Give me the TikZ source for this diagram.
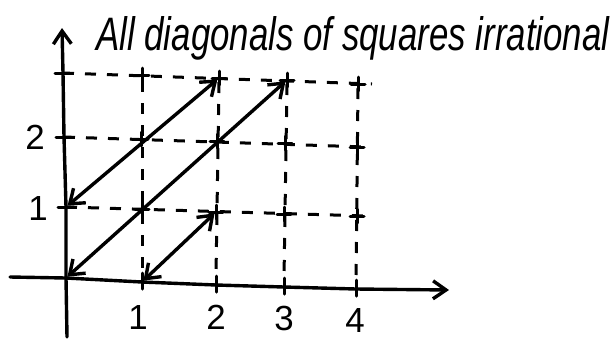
\documentclass[tikz,border=0pt]{standalone}
\usepackage{fontspec}
\setmainfont{Liberation Sans}
\usetikzlibrary{arrows.meta}
\begin{document}
\begin{tikzpicture}[x=1bp,y=-1bp,
  axisline/.style={line width=3.4bp, line cap=round, line join=round, -{Straight Barb[length=13bp,width=18bp,line width=3.4bp]}},
  gridline/.style={line width=3bp, dash pattern=on 11bp off 11bp},
  crossmark/.style={line width=3bp, line cap=round},
  diag/.style={line width=3.4bp, line cap=round, {Straight Barb[length=13bp,width=19bp,line width=3.4bp]}-{Straight Barb[length=13bp,width=19bp,line width=3.4bp]}, shorten <=2bp, shorten >=2bp},
  lbl/.style={font=\fontsize{35}{35}\selectfont, inner sep=0pt}]
\useasboundingbox (0,0) rectangle (614,339);
% grid points
\coordinate (p00) at (66,278);
\coordinate (p10) at (142,282);
\coordinate (p20) at (216,285);
\coordinate (p30) at (284,287);
\coordinate (p40) at (356,289);
\coordinate (p01) at (66,207);
\coordinate (p11) at (142,209);
\coordinate (p21) at (216,212);
\coordinate (p31) at (284,214);
\coordinate (p41) at (357,216);
\coordinate (p02) at (64,137);
\coordinate (p12) at (141,139);
\coordinate (p22) at (217,141);
\coordinate (p32) at (285,143);
\coordinate (p42) at (357,147);
\coordinate (p03) at (63,73);
\coordinate (p13) at (142,75);
\coordinate (p23) at (219,78);
\coordinate (p33) at (287,80);
\coordinate (p43) at (358,84);
% axes
\coordinate (xs) at (10,277);
\coordinate (xe) at (449,290);
\coordinate (ys) at (67,337);
\coordinate (ye) at (62,28);
\draw[axisline] (xs) -- (p00) -- (p10) -- (p20) -- (p30) -- (p40) -- (xe);
\draw[axisline] (ys) -- (p00) -- (p01) -- (p02) -- (p03) -- (ye);
% dashed grid
\draw[gridline] (p01) -- ([xshift=10bp]p41);
\draw[gridline] (p02) -- ([xshift=9bp]p42);
\draw[gridline] (p03) -- ([xshift=14bp]p43);
\draw[gridline] ([yshift=-6bp]p13) -- ([yshift=10bp]p10);
\draw[gridline] ([yshift=-4bp]p23) -- ([yshift=10bp]p20);
\draw[gridline] ([yshift=-4bp]p33) -- ([yshift=9bp]p30);
\draw[gridline] ([yshift=-4bp]p43) -- ([yshift=10bp]p40);
% cross marks
\foreach \p in {11,21,31,41,12,22,32,42,13,23,33,43}{
  \draw[crossmark] ([xshift=-7bp]p\p) -- ([xshift=7bp]p\p);
  \draw[crossmark] ([yshift=-7bp]p\p) -- ([yshift=7bp]p\p);
}
\foreach \p in {01,02,03}{
  \draw[crossmark] ([xshift=-8bp]p\p) -- ([xshift=8bp]p\p);
}
\foreach \p in {10,20,30,40}{
  \draw[crossmark] ([yshift=-7bp]p\p) -- ([yshift=9bp]p\p);
}
% diagonals
\draw[diag] (p01) -- (p23);
\draw[diag] (p00) -- (p33);
\draw[diag] (p10) -- (p21);
% labels
\node[lbl] (ly2) at (35,137) {2};
\node[lbl] (ly1) at (38,208) {1};
\node[lbl] (lx1) at (138,317) {1};
\node[lbl] (lx2) at (216,317) {2};
\node[lbl] (lx3) at (284,318) {3};
\node[lbl] (lx4) at (355,320) {4};
% title
\node[anchor=base west, inner sep=0pt] (title) at (96,50)
  {\resizebox{513bp}{34bp}{\itshape All diagonals of squares irrational}};
\end{tikzpicture}
\end{document}
